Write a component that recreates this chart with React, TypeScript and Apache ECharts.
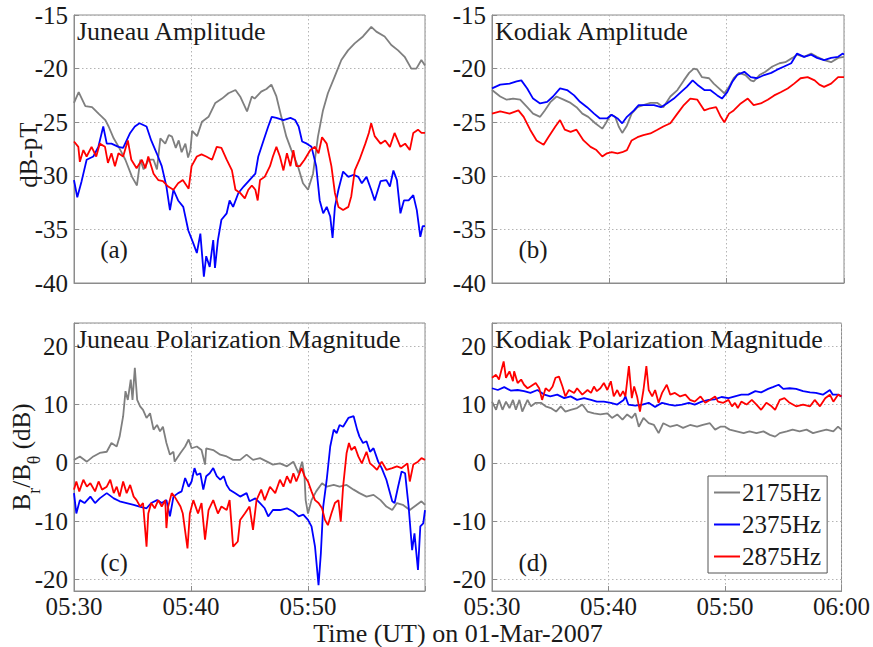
import React, { useEffect, useRef } from "react";
import * as echarts from "echarts";

// ---- data: [minutes after 05:30, value] ----
const juneauAmpGray: number[][] = [[0,-23.2],[0.4,-22.2],[0.97,-23.5],[1.54,-23.6],[2.1,-24.2],[2.68,-24.8],[2.96,-25.4],[3.39,-26.5],[3.82,-27.3],[4.39,-28.5],[4.96,-30.1],[5.38,-30.9],[5.67,-28.5],[5.95,-29.4],[6.38,-28.5],[6.8,-28.5],[7.09,-29.4],[7.38,-26.5],[7.8,-27],[8.1,-26.2],[8.38,-26.35],[8.7,-27.4],[8.95,-26.7],[9.2,-27.8],[9.52,-27],[9.75,-28.3],[9.95,-27.6],[10.1,-25.8],[10.52,-26.3],[10.94,-24.95],[11.5,-24.5],[12.08,-23.2],[12.65,-22.8],[13.2,-22.3],[13.8,-22],[14.2,-22.6],[14.79,-24],[15.2,-22.6],[15.44,-22.8],[16.0,-22.15],[16.45,-21.9],[16.87,-21.5],[17.3,-22.6],[17.72,-24.5],[18.15,-26.35],[18.58,-27.6],[19.15,-29.15],[19.57,-30.7],[20.0,-31.3],[20.43,-29.8],[20.85,-26.35],[21.28,-23.9],[21.7,-22.3],[22.28,-20.75],[22.85,-19.2],[23.42,-18.3],[23.99,-17.65],[24.7,-17.0],[25.41,-16.1],[25.84,-16.55],[26.55,-17.0],[27.12,-17.8],[27.7,-18.3],[28.26,-18.9],[28.83,-20],[29.26,-20],[29.69,-19.2],[30,-19.7]];
const juneauAmpBlue: number[][] = [[0,-30.4],[0.28,-32],[0.65,-30.5],[1.08,-28.5],[1.65,-28.2],[2.08,-27.3],[2.5,-25.4],[2.8,-27],[3.2,-27],[3.8,-27.3],[4.2,-27.4],[4.8,-26],[5.2,-25.4],[5.6,-25.1],[6.2,-25.4],[6.6,-26.7],[7.07,-27.9],[7.5,-29.1],[7.9,-31],[8.2,-33.2],[8.5,-31.3],[8.9,-32.3],[9.34,-32.9],[9.77,-35.1],[10.2,-36.3],[10.5,-37.2],[10.8,-35.4],[11.1,-39.4],[11.3,-37.5],[11.6,-38.5],[11.9,-36],[12.05,-38.6],[12.3,-36],[12.6,-34.1],[13.05,-33.5],[13.3,-32.3],[13.6,-32.9],[14.05,-31.6],[14.5,-31],[15.0,-30.4],[15.5,-29.8],[15.75,-28.2],[16.2,-26.7],[16.6,-25.4],[16.9,-24.5],[17.3,-24.6],[17.9,-24.8],[18.5,-24.6],[18.9,-24.8],[19.2,-25.4],[19.5,-26.8],[19.9,-27],[20.3,-27.3],[20.7,-29.1],[21.0,-32.3],[21.3,-33.5],[21.6,-32.9],[21.9,-33.8],[22.1,-35.8],[22.3,-32.9],[22.6,-31.3],[23.0,-29.6],[23.45,-30.1],[23.9,-29.9],[24.3,-30.1],[24.6,-30.7],[25.0,-30.1],[25.4,-31.3],[25.7,-32.3],[26.2,-30.5],[26.7,-30.4],[27.0,-31],[27.3,-29.5],[27.6,-30.4],[27.9,-33.5],[28.2,-32.3],[28.6,-32.3],[29.0,-31.8],[29.3,-33.2],[29.6,-35.7],[29.8,-34.7],[30,-34.7]];
const juneauAmpRed: number[][] = [[0,-26.8],[0.37,-27.3],[0.5,-28.7],[0.8,-27.6],[1.08,-28.2],[1.5,-27.3],[1.9,-28.2],[2.2,-27],[2.65,-27.3],[2.9,-28.8],[3.2,-27.9],[3.5,-29.1],[3.8,-27.9],[4.2,-28.2],[4.6,-26.7],[4.9,-28.5],[5.35,-29.3],[5.8,-28.5],[6.1,-29.3],[6.35,-28.2],[6.8,-29.8],[7.2,-30.4],[7.6,-30.5],[8.05,-31],[8.5,-31.3],[8.9,-30.7],[9.3,-30.4],[9.8,-31.2],[10.05,-29.1],[10.5,-28.2],[10.9,-28],[11.3,-28.2],[11.8,-28.5],[12.2,-27.3],[12.6,-27.4],[13.05,-28.5],[13.5,-29.5],[13.8,-31.3],[14.2,-31.6],[14.6,-32.1],[14.9,-31.3],[15.2,-30.9],[15.5,-31.3],[15.7,-32.3],[15.9,-30.4],[16.3,-30.1],[16.75,-29.1],[17.0,-28.2],[17.3,-27.3],[17.6,-28.2],[17.9,-29.5],[18.2,-27.9],[18.5,-29.1],[18.75,-27.6],[19.0,-29.1],[19.3,-29.1],[19.7,-28.5],[20.2,-27.6],[20.6,-27.3],[20.9,-27.9],[21.2,-26.4],[21.6,-27],[22.0,-29.1],[22.3,-31.6],[22.6,-32.9],[23.0,-33.2],[23.45,-32.9],[23.7,-31.9],[24.0,-29.5],[24.4,-28.5],[24.9,-27],[25.2,-26],[25.4,-25.1],[25.7,-26.3],[26.2,-27],[26.6,-26.7],[27.0,-27.3],[27.4,-26],[27.9,-27.3],[28.3,-27],[28.7,-27.6],[29.0,-26],[29.4,-25.7],[29.7,-26],[30,-26]];

const kodiakAmpGray: number[][] = [[0,-22],[0.7,-22.6],[1.25,-22.9],[1.8,-22.8],[2.4,-22.9],[3.0,-23.6],[3.5,-24.2],[4.1,-24.5],[4.5,-23.9],[5.0,-23.1],[5.5,-22.6],[6.1,-22.9],[6.7,-23.2],[7.2,-23.6],[7.7,-24.2],[8.2,-24.5],[8.8,-25.1],[9.4,-25.6],[9.7,-25.1],[10.1,-24.3],[10.5,-24.5],[10.8,-25.4],[11.1,-26],[11.5,-25.3],[11.9,-24.2],[12.4,-23.6],[12.9,-23.4],[13.5,-23.2],[14.1,-23.2],[14.6,-23.6],[15.2,-22.6],[15.8,-22],[16.35,-21.1],[16.8,-20.4],[17.2,-20],[17.5,-20.1],[17.9,-20.8],[18.5,-20.9],[18.9,-21.4],[19.3,-21.8],[19.8,-22.3],[20.2,-21.7],[20.6,-20.9],[21.05,-20.4],[21.6,-20.6],[22.05,-21.1],[22.3,-21.2],[22.8,-20.6],[23.3,-20.3],[23.9,-19.8],[24.5,-19.5],[25.0,-19.4],[25.6,-19],[26.0,-18.7],[26.6,-18.9],[27.2,-18.6],[27.7,-18.9],[28.3,-19.2],[28.9,-19.4],[29.5,-19],[30,-18.9]];
const kodiakAmpBlue: number[][] = [[0,-21.85],[0.7,-21.5],[1.5,-21.4],[2.1,-21.2],[2.5,-21.1],[3.0,-21.85],[3.5,-22.8],[4.1,-23.25],[4.7,-23.1],[5.2,-22.6],[5.8,-21.85],[6.4,-22],[7.0,-22.5],[7.5,-23.1],[8.1,-23.6],[8.7,-24.2],[9.2,-24.65],[9.8,-24.65],[10.2,-24.3],[10.7,-24.65],[11.1,-25.1],[11.5,-24.5],[12.1,-23.9],[12.5,-23.4],[13.1,-23.4],[13.8,-23.4],[14.4,-23.6],[14.9,-23.25],[15.5,-22.8],[16.1,-22.2],[16.6,-21.7],[17.1,-21.1],[17.5,-21.5],[18.1,-22],[18.6,-22],[19.2,-22.5],[19.6,-22.8],[20.05,-22.2],[20.5,-21.2],[20.9,-20.6],[21.5,-20.3],[22.05,-20.8],[22.6,-20.9],[23.2,-20.6],[23.8,-20.4],[24.3,-20.1],[24.9,-19.8],[25.5,-19.5],[26.0,-18.6],[26.6,-18.9],[27.2,-18.7],[27.7,-19],[28.3,-19.2],[28.9,-19],[29.5,-18.9],[29.9,-18.6],[30,-18.7]];
const kodiakAmpRed: number[][] = [[0,-24.2],[0.7,-24],[1.5,-24.2],[2.25,-23.9],[2.7,-24.5],[3.25,-25.7],[3.8,-26.7],[4.4,-27.1],[4.8,-26.4],[5.4,-25.4],[5.8,-24.8],[6.2,-25.7],[6.7,-25.9],[7.2,-25.7],[7.8,-26.7],[8.4,-27.3],[8.9,-27.6],[9.4,-28.2],[9.8,-27.9],[10.2,-27.8],[10.7,-27.9],[11.1,-27.8],[11.5,-27.6],[11.9,-26.7],[12.4,-26.4],[12.9,-26.2],[13.5,-26.05],[14.1,-25.7],[14.6,-25.4],[15.2,-25.1],[15.8,-24.2],[16.35,-23.4],[16.9,-22.8],[17.5,-22.9],[18.1,-23.9],[18.6,-23.7],[19.1,-23.6],[19.5,-24.5],[19.8,-25],[20.2,-24.2],[20.6,-23.9],[21.2,-23.25],[21.8,-22.8],[22.3,-23.4],[22.9,-23.25],[23.5,-22.9],[24.05,-22.5],[24.6,-22.2],[25.2,-21.85],[25.75,-21.4],[26.3,-20.9],[26.9,-20.8],[27.5,-21.1],[27.9,-21.5],[28.3,-21.7],[28.9,-21.4],[29.5,-20.8],[30,-20.8]];

const juneauPolGray: number[][] = [[0,0.5],[0.5,1.1],[1.1,0.2],[1.65,1.1],[2.2,1.7],[2.8,1.9],[3.2,3.4],[3.65,2.8],[3.9,4.5],[4.2,8],[4.4,12.3],[4.6,10.8],[4.85,14.3],[5.0,10.8],[5.2,16.3],[5.4,10.8],[5.65,9.7],[5.9,9.1],[6.2,7.7],[6.5,8.5],[6.8,5.7],[7.1,6.5],[7.35,5.4],[7.6,6.2],[7.9,3.4],[8.2,1.4],[8.5,1.9],[8.6,0.2],[9.1,1.7],[9.5,2.8],[9.8,4],[10.05,2.5],[10.5,2.8],[10.9,2.2],[11.2,-0.3],[11.3,2.5],[11.9,2.2],[12.5,1.4],[13.05,1.1],[13.6,0.5],[14.2,0.5],[14.75,1.4],[15.3,0.5],[15.9,0.8],[16.5,0.2],[17.0,-0.3],[17.6,-0.1],[18.2,-0.6],[18.75,0.2],[19.2,-1.8],[19.5,0.2],[19.7,-2.3],[19.8,-6.4],[20.0,-8.7],[20.3,-6.4],[20.7,-4.9],[21.2,-3.5],[21.6,-4.1],[22.2,-3.8],[22.7,-4.1],[23.3,-3.8],[23.9,-4.6],[24.4,-5.2],[25.0,-5.8],[25.6,-5.5],[26.2,-6.4],[26.7,-7.5],[27.2,-8.1],[27.6,-6.9],[28.1,-7.2],[28.7,-8.1],[29.3,-7.2],[29.7,-6.6],[30,-7.2]];
const juneauPolBlue: number[][] = [[0,-5.2],[0.2,-8.7],[0.5,-6.4],[0.9,-6.9],[1.4,-5.8],[1.8,-6.9],[2.2,-6.1],[2.8,-5.2],[3.4,-6.1],[3.9,-6.6],[4.5,-6.9],[5.1,-7.2],[5.6,-7.5],[6.2,-7.8],[6.6,-6.9],[7.1,-6.4],[7.5,-6.9],[7.9,-6.4],[8.2,-9.2],[8.5,-5.8],[8.9,-5.2],[9.2,-4.9],[9.5,-2.6],[9.8,-4.1],[10.05,-3.2],[10.3,-0.9],[10.5,-2.1],[10.8,-1.8],[11.05,-4.6],[11.3,-2.3],[11.6,-1.8],[11.9,-0.9],[12.2,-2.3],[12.5,-2.9],[12.8,-2.3],[13.05,-3.8],[13.3,-4.6],[13.75,-5.2],[14.2,-5.8],[14.75,-5.2],[15.0,-6.6],[15.5,-6.1],[15.9,-6.9],[16.3,-7.8],[16.6,-9.2],[17.0,-8.1],[17.6,-8.1],[18.2,-7.8],[18.75,-8.4],[19.2,-9.2],[19.6,-8.9],[20.0,-9.8],[20.3,-10.9],[20.6,-14.4],[20.9,-21],[21.1,-15.5],[21.3,-7.5],[21.6,-2.9],[21.9,2.8],[22.2,5.7],[22.45,5.1],[22.7,6.5],[23.0,6.2],[23.45,7.7],[23.9,8],[24.2,5.7],[24.4,4.5],[24.7,3.4],[25.0,3.7],[25.3,1.9],[25.6,2.5],[26.0,0.2],[26.3,-0.9],[26.7,-2.9],[27.2,-6.6],[27.4,-6.9],[27.7,-4.1],[28.0,-1.5],[28.3,-1.8],[28.6,-7.5],[28.9,-15],[29.1,-12.1],[29.4,-18.4],[29.6,-10.9],[29.85,-10.4],[30,-8.1]];
const juneauPolRed: number[][] = [[0,-4.6],[0.2,-3.2],[0.45,-4.9],[0.8,-2.9],[1.1,-4.1],[1.4,-3.5],[1.8,-4.9],[2.1,-3.2],[2.4,-4.6],[2.8,-4.1],[3.1,-2.9],[3.4,-5.2],[3.65,-4.1],[3.9,-5.8],[4.2,-3.2],[4.5,-5.2],[4.8,-3.8],[5.1,-5.8],[5.35,-6.4],[5.65,-7.5],[5.9,-6.9],[6.2,-14.4],[6.35,-8.7],[6.6,-6.9],[6.9,-7.8],[7.2,-6.4],[7.5,-7.5],[7.8,-6.4],[7.9,-11.2],[8.05,-7.5],[8.35,-5.2],[8.6,-5.8],[9.1,-7.5],[9.3,-8.7],[9.7,-14.7],[9.9,-8.7],[10.2,-6.4],[10.6,-8.7],[10.9,-6.9],[11.2,-13.2],[11.5,-8.1],[11.9,-6.4],[12.3,-8.7],[12.6,-7.5],[13.05,-8.1],[13.3,-6.4],[13.6,-14.4],[14.0,-13.5],[14.2,-9.8],[14.6,-8.7],[15.0,-7.5],[15.3,-11.5],[15.6,-6.4],[16.0,-4.6],[16.3,-6.4],[16.75,-4.1],[17.2,-5.2],[17.6,-2.9],[17.9,-4.1],[18.2,-2.3],[18.5,-3.5],[18.75,-1.8],[19.0,-3.2],[19.45,-0.9],[19.7,-2.3],[20.0,-3.2],[20.3,-4.9],[20.6,-6.4],[20.9,-6.9],[21.2,-7.8],[21.45,-9.8],[21.7,-10.7],[22.0,-8.7],[22.3,-6.9],[22.6,-6.4],[22.8,-10.1],[23.0,-4.1],[23.3,1.7],[23.5,3.4],[23.7,2.2],[24.0,2.8],[24.3,1.1],[24.6,-0.1],[25.0,1.9],[25.3,-0.1],[25.6,-0.6],[25.9,-1.2],[26.3,0.2],[26.7,-1.2],[27.2,-0.9],[27.6,-0.6],[28.0,-0.9],[28.5,-0.1],[28.7,-3.2],[29.0,-0.3],[29.4,0.2],[29.7,0.8],[30,0.5]];

const kodiakPolGray: number[][] = [[0,10.5],[0.35,9.1],[0.6,10.8],[0.9,9.1],[1.2,10.5],[1.5,9.4],[1.8,10.8],[2.05,9.1],[2.35,10.8],[2.6,8.8],[3.05,10.8],[3.35,9.7],[3.75,10.3],[4.2,10.3],[4.6,9.7],[5.05,9.4],[5.5,8.8],[5.9,9.7],[6.3,8.8],[6.75,9.1],[7.3,9.4],[7.75,10],[8.2,8.8],[8.75,8.5],[9.3,8.3],[9.9,8.5],[10.3,7.7],[10.75,8.3],[11.2,7.4],[11.6,8.3],[12.0,7.7],[12.3,8.5],[12.6,6.2],[13.0,7.7],[13.45,6.8],[13.9,6.5],[14.3,5.1],[14.7,6.8],[15.3,6.2],[15.9,6.5],[16.4,6.0],[17.0,6.5],[17.6,6.2],[18.1,6.5],[18.7,6.8],[19.15,5.7],[19.6,6.2],[20.0,6.2],[20.4,5.7],[21.0,5.4],[21.6,5.1],[22.1,5.4],[22.7,5.1],[23.3,5.4],[23.85,4.8],[24.3,4.5],[24.7,5.1],[25.3,5.4],[25.8,5.7],[26.4,5.4],[27.0,5.7],[27.55,5.1],[28.1,5.4],[28.7,5.7],[29.3,5.4],[29.7,6.2],[30,5.7]];
const kodiakPolBlue: number[][] = [[0,12.8],[0.5,12.5],[1.05,13],[1.6,12.4],[2.2,12.5],[2.75,12.3],[3.3,12],[3.9,12.5],[4.5,11.7],[5.0,11.4],[5.6,11.7],[6.2,11.1],[6.75,11.4],[7.3,10.8],[7.9,11.1],[8.5,10.8],[9.0,10.5],[9.6,10.5],[10.2,10.3],[10.75,10],[11.3,10.8],[11.45,11.4],[11.7,10],[12.3,9.8],[12.9,10],[13.45,10.3],[14.0,9.6],[14.6,10.3],[15.2,10],[15.7,9.8],[16.3,10],[16.9,10.3],[17.4,10],[18.0,10.5],[18.6,10.8],[19.1,10.9],[19.7,11.3],[20.3,11.1],[20.85,11.4],[21.4,11.7],[22.0,11.7],[22.6,12.3],[23.1,12.1],[23.7,12.7],[24.1,13],[24.6,13.4],[25.0,12.7],[25.55,12.8],[26.1,12.7],[26.7,12.3],[27.3,12.1],[27.8,12],[28.4,11.7],[29.0,12.5],[29.25,11.7],[29.7,11.7],[30,11.4]];
const kodiakPolRed: number[][] = [[0,14.6],[0.35,15.1],[0.6,14.3],[1.0,17.4],[1.2,14.6],[1.5,15.7],[1.8,14],[1.9,15.7],[2.2,13.7],[2.5,14.3],[2.75,13.4],[3.05,12.8],[3.3,13.1],[3.75,13.7],[4.05,12.8],[4.3,10.8],[4.6,12.8],[4.9,12.3],[5.2,13.1],[5.45,14.6],[5.75,14.8],[6.05,13.1],[6.3,11.4],[6.6,12.5],[7.05,12],[7.3,12.8],[7.75,11.7],[8.2,12.5],[8.5,12],[8.75,13.1],[9.0,12.3],[9.3,12.8],[9.6,13.7],[9.9,12.5],[10.2,14],[10.45,11.4],[10.75,12.5],[11.0,11.4],[11.25,12.3],[11.45,11.4],[11.75,16.6],[12.0,11.1],[12.2,13.1],[12.45,11.4],[12.7,8.8],[13.0,12.5],[13.25,16.6],[13.45,12.5],[13.75,11.4],[14.0,12.5],[14.3,10.3],[14.6,12],[15.0,13.4],[15.3,11.7],[15.7,12],[16.15,11.4],[16.6,11.7],[17.0,10.8],[17.4,10.5],[17.9,11.4],[18.3,10.3],[18.7,10.8],[19.15,11.4],[19.4,10.5],[19.85,10.3],[20.3,10.8],[20.6,9.7],[20.85,10.3],[21.1,9.4],[21.4,10.5],[21.85,10],[22.3,10.8],[22.7,10],[23.1,9.1],[23.55,10.3],[24.0,9.7],[24.3,9.1],[24.7,10.8],[25.1,11.1],[25.55,10.3],[26.1,9.7],[26.7,10],[27.3,9.7],[27.7,10.8],[28.15,9.7],[28.6,11.1],[29.0,11.7],[29.3,10.5],[29.7,11.7],[30,11.4]];

const seriesNames = ["2175Hz", "2375Hz", "2875Hz"];
const seriesColors = ["#7f7f7f", "#0000ff", "#ff0000"];
const panelTitles = ["Juneau Amplitude", "Kodiak Amplitude", "Juneau Polarization Magnitude", "Kodiak Polarization Magnitude"];
const panelTags = ["(a)", "(b)", "(c)", "(d)"];
const timeTicks = [0, 10, 20, 30];
const timeTickLabels = ["05:30", "05:40", "05:50", "06:00"];

const panelData = [
  [juneauAmpGray, juneauAmpBlue, juneauAmpRed],
  [kodiakAmpGray, kodiakAmpBlue, kodiakAmpRed],
  [juneauPolGray, juneauPolBlue, juneauPolRed],
  [kodiakPolGray, kodiakPolBlue, kodiakPolRed],
];

const FONT = "Liberation Serif";
const TXT = "#1a1a1a";

export default function App() {
  const ref = useRef<HTMLDivElement>(null);
  useEffect(() => {
    if (!ref.current) return;
    const chart = echarts.init(ref.current, undefined, { renderer: "svg" });

    const grids = [
      { left: 74, top: 15, width: 351, height: 268 },
      { left: 492, top: 15, width: 352, height: 268 },
      { left: 74, top: 323, width: 351, height: 268 },
      { left: 492, top: 323, width: 352, height: 268 },
    ].map((g) => ({ ...g, show: true, borderColor: "#8c8c8c", borderWidth: 1, backgroundColor: "#fff" }));

    const splitLine = { show: true, lineStyle: { color: "#b4b4b4", type: [1.5, 2.5] as any, width: 1 } };
    const axisLine = { show: true, onZero: false, lineStyle: { color: "#8c8c8c" } };
    const axisTick = { show: true, inside: true, length: 5, lineStyle: { color: "#8c8c8c" } };

    const xAxis = grids.map((_, i) => ({
      type: "value",
      gridIndex: i,
      min: 0,
      max: 30,
      interval: 10,
      axisLine,
      axisTick,
      splitLine,
      axisLabel: {
        show: i >= 2,
        margin: 3,
        fontFamily: FONT,
        fontSize: 25,
        lineHeight: 25,
        color: TXT,
        formatter: (v: number) => {
          if (i === 2 && v === 30) return "";
          const k = timeTicks.indexOf(v);
          return k >= 0 ? timeTickLabels[k] : "";
        },
      },
    }));

    const yAxis = grids.map((_, i) =>
      i < 2
        ? {
            type: "value",
            gridIndex: i,
            min: -40,
            max: -15,
            interval: 5,
            axisLine,
            axisTick,
            splitLine,
            axisLabel: { margin: 6, fontFamily: FONT, fontSize: 25, color: TXT, formatter: (v: number) => String(v) },
          }
        : {
            type: "value",
            gridIndex: i,
            min: -22,
            max: 24,
            splitNumber: 5,
            minInterval: 10,
            maxInterval: 10,
            axisLine,
            axisTick,
            splitLine,
            axisLabel: {
              margin: 6,
              fontFamily: FONT,
              fontSize: 25,
              color: TXT,
              formatter: (v: number) => (Math.abs(v % 10) < 1e-9 ? String(v) : ""),
            },
          }
    );

    const series: any[] = [];
    panelData.forEach((group, p) => {
      group.forEach((data, s) => {
        series.push({
          type: "line",
          name: seriesNames[s],
          xAxisIndex: p,
          yAxisIndex: p,
          data,
          showSymbol: false,
          symbol: "none",
          clip: true,
          lineStyle: { color: seriesColors[s], width: 1.8 },
          itemStyle: { color: seriesColors[s] },
          z: 3,
        });
      });
    });

    const titlePos = [
      [77, 31],
      [495, 31],
      [77, 339],
      [495, 339],
    ];
    const tagPos = [
      [114, 249],
      [533, 249],
      [114, 562],
      [533, 562],
    ];

    const graphic: any[] = [];
    panelTitles.forEach((t, i) => {
      graphic.push({
        type: "text",
        x: titlePos[i][0],
        y: titlePos[i][1],
        z: 10,
        style: { text: t, fontFamily: FONT, fontSize: 26, fill: TXT, textAlign: "left", textVerticalAlign: "middle" },
      });
    });
    panelTags.forEach((t, i) => {
      graphic.push({
        type: "text",
        x: tagPos[i][0],
        y: tagPos[i][1],
        z: 10,
        style: { text: t, fontFamily: FONT, fontSize: 25, fill: TXT, textAlign: "center", textVerticalAlign: "middle" },
      });
    });
    graphic.push({
      type: "text",
      x: 28,
      y: 155,
      rotation: Math.PI / 2,
      style: { text: "dB-pT", fontFamily: FONT, fontSize: 25, fill: TXT, textAlign: "center", textVerticalAlign: "middle" },
    });
    graphic.push({
      type: "text",
      x: 26,
      y: 457,
      rotation: Math.PI / 2,
      style: {
        text: "{b|B}{s|r}{b|/B}{s|θ}{b| (dB)}",
        fontFamily: FONT,
        fill: TXT,
        textAlign: "center",
        textVerticalAlign: "middle",
        rich: {
          b: { fontFamily: FONT, fontSize: 25, fill: TXT, color: TXT, lineHeight: 34, verticalAlign: "top", padding: [0, 0, 0, 0] },
          s: { fontFamily: FONT, fontSize: 18, fill: TXT, color: TXT, lineHeight: 34, verticalAlign: "bottom", padding: [10, 0, 0, 0] },
        },
      },
    });
    graphic.push({
      type: "text",
      x: 458,
      y: 633,
      style: {
        text: "Time (UT) on 01-Mar-2007",
        fontFamily: FONT,
        fontSize: 26,
        lineHeight: 23,
        fill: TXT,
        textAlign: "center",
        textVerticalAlign: "middle",
      },
    });

    chart.setOption({
      animation: false,
      backgroundColor: "#fff",
      grid: grids,
      xAxis,
      yAxis,
      series,
      graphic,
      legend: {
        data: seriesNames,
        orient: "vertical",
        left: 708,
        top: 476,
        padding: [4, 6, 4, 6],
        itemGap: 7,
        itemWidth: 26,
        itemHeight: 2,
        icon: "rect",
        borderColor: "#555",
        borderWidth: 1,
        backgroundColor: "#fff",
        textStyle: { fontFamily: FONT, fontSize: 25, color: TXT, padding: [0, 0, 0, -3] },
      },
    });

    return () => chart.dispose();
  }, []);

  return <div ref={ref} style={{ position: "absolute", left: 0, top: 0, width: 873, height: 647 }} />;
}
